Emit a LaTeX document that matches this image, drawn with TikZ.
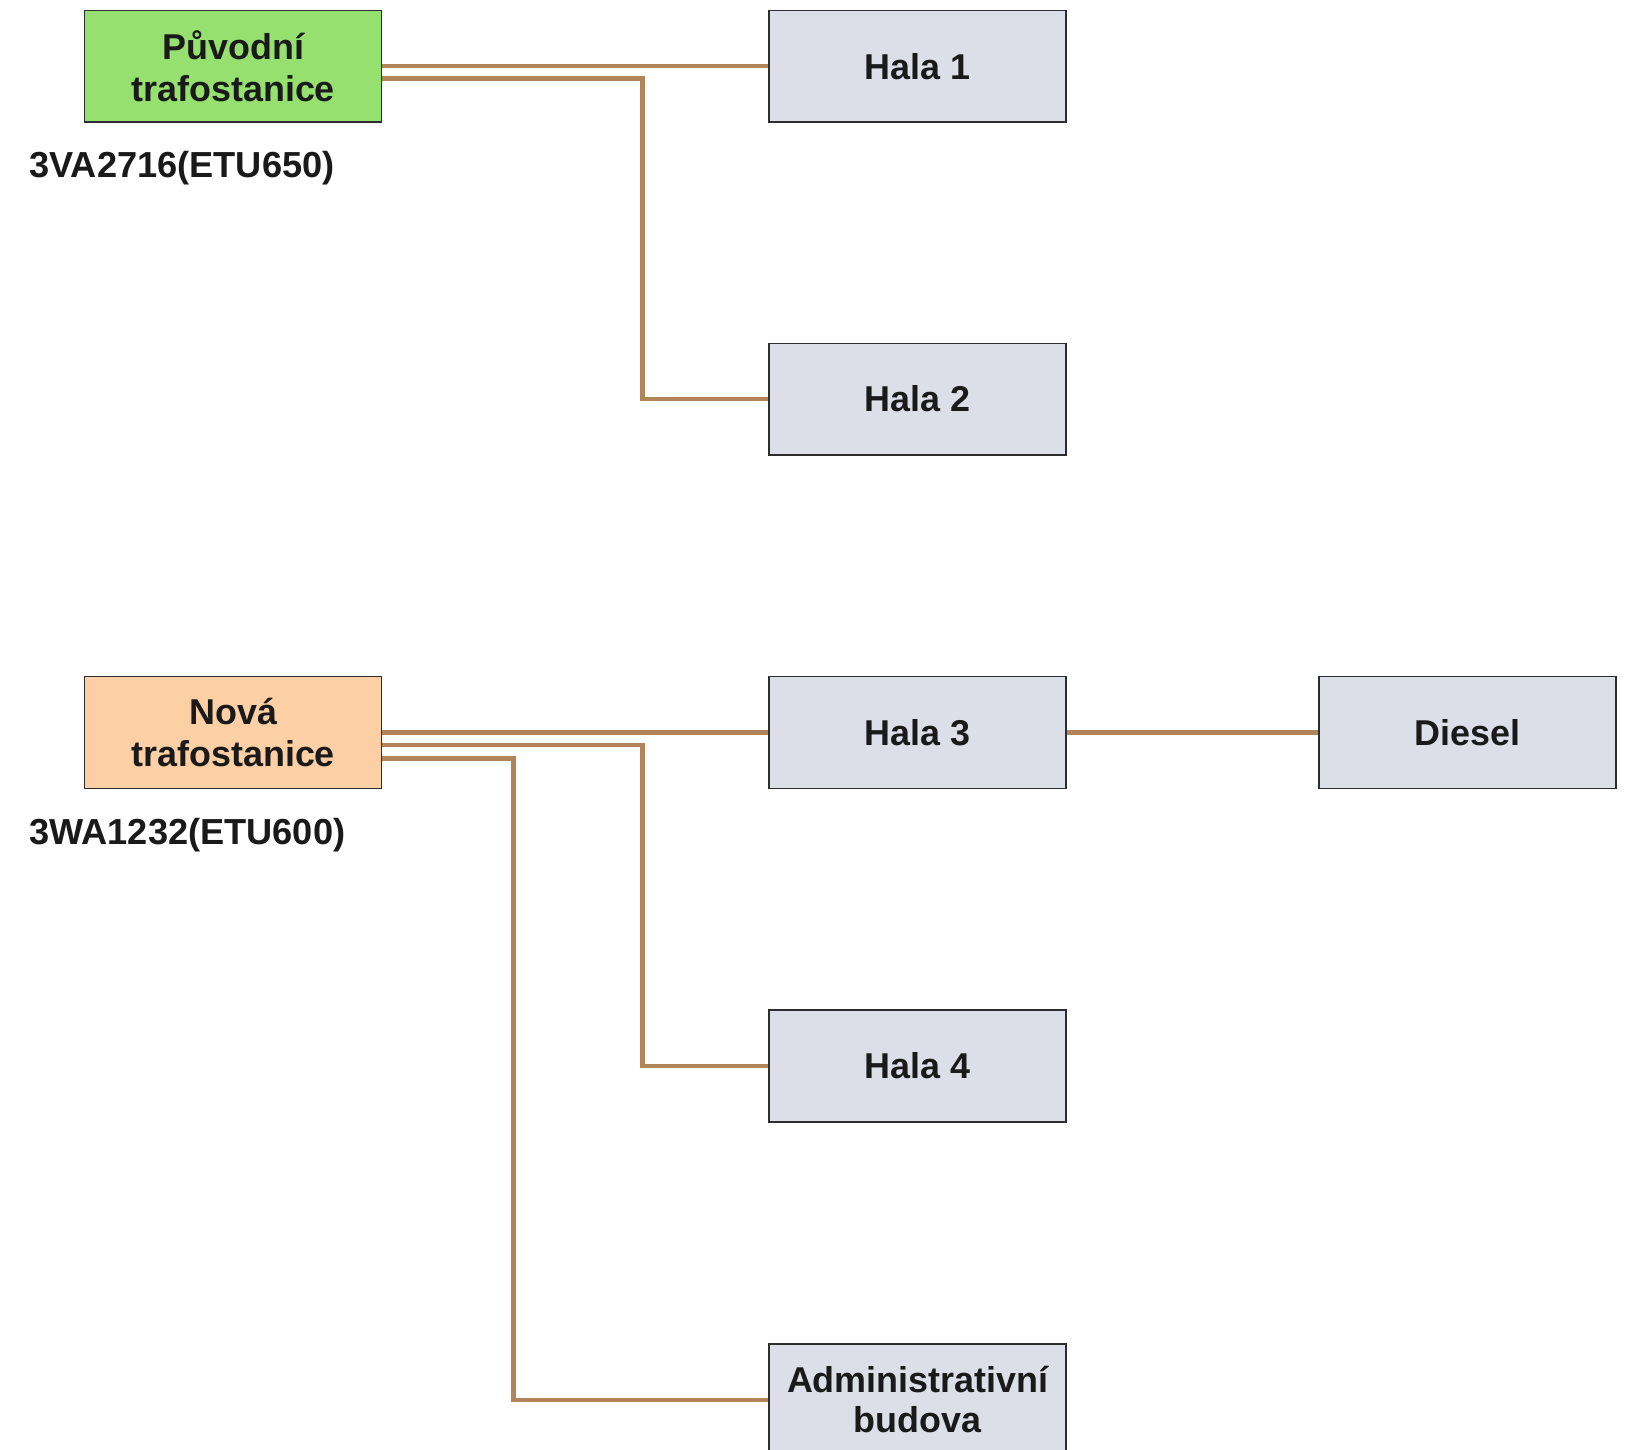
\documentclass[tikz,border=0pt]{standalone}
\usepackage{fontspec}
\setmainfont{Liberation Sans}
\definecolor{wirec}{RGB}{178,132,90}
\definecolor{boxgray}{RGB}{220,223,232}
\definecolor{boxgreen}{RGB}{149,224,110}
\definecolor{boxorange}{RGB}{252,207,164}
\definecolor{edgec}{RGB}{45,45,45}
\definecolor{txt}{RGB}{26,26,26}
\begin{document}
\begin{tikzpicture}[x=1pt,y=-1pt,
  box/.style={draw=edgec,line width=1.5pt,minimum width=297pt,minimum height=111.7pt,
    inner sep=0pt,align=center,text=txt,font=\bfseries\fontsize{35.9}{42}\selectfont},
  lbl/.style={anchor=west,inner sep=0pt,text=txt,font=\bfseries\fontsize{36.2}{41}\selectfont},
  wire/.style={draw=wirec,line width=4.5pt}]
\useasboundingbox (0,0) rectangle (1636,1449);
\fill[white] (0,0) rectangle (1636,1449);
\node[box,fill=boxgreen] (orig) at (233.2,66.2) {Původní\\trafostanice};
\node[box,fill=boxorange] (nova) at (233.2,732.5) {Nová\\trafostanice};
\node[box,fill=boxgray] (h1) at (917.7,66.2) {Hala 1};
\node[box,fill=boxgray] (h2) at (917.7,399.1) {Hala 2};
\node[box,fill=boxgray] (h3) at (917.7,732.5) {Hala 3};
\node[box,fill=boxgray] (h4) at (917.7,1065.9) {Hala 4};
\node[box,fill=boxgray,font=\bfseries\fontsize{35.9}{40}\selectfont] (adm) at (917.7,1399.8) {Administrativní\\budova};
\node[box,fill=boxgray] (dies) at (1467.5,732.5) {Diesel};
\node[lbl] (l1) at (29.2,168.5) {3VA2716(ETU650)};
\node[lbl] (l2) at (29.2,835.5) {3WA1232(ETU600)};
\coordinate (ja) at (642.7,0);
\coordinate (jb) at (513.3,0);
\draw[wire] (orig.east) -- (h1.west);
\draw[wire] ([yshift=-12.5pt]orig.east) -| (ja |- h2.west) -- (h2.west);
\draw[wire] (nova.east) -- (h3.west);
\draw[wire] ([yshift=-12.5pt]nova.east) -| (ja |- h4.west) -- (h4.west);
\draw[wire] ([yshift=-26pt]nova.east) -| (jb |- adm.west) -- (adm.west);
\draw[wire] (h3.east) -- (dies.west);
\end{tikzpicture}
\end{document}
